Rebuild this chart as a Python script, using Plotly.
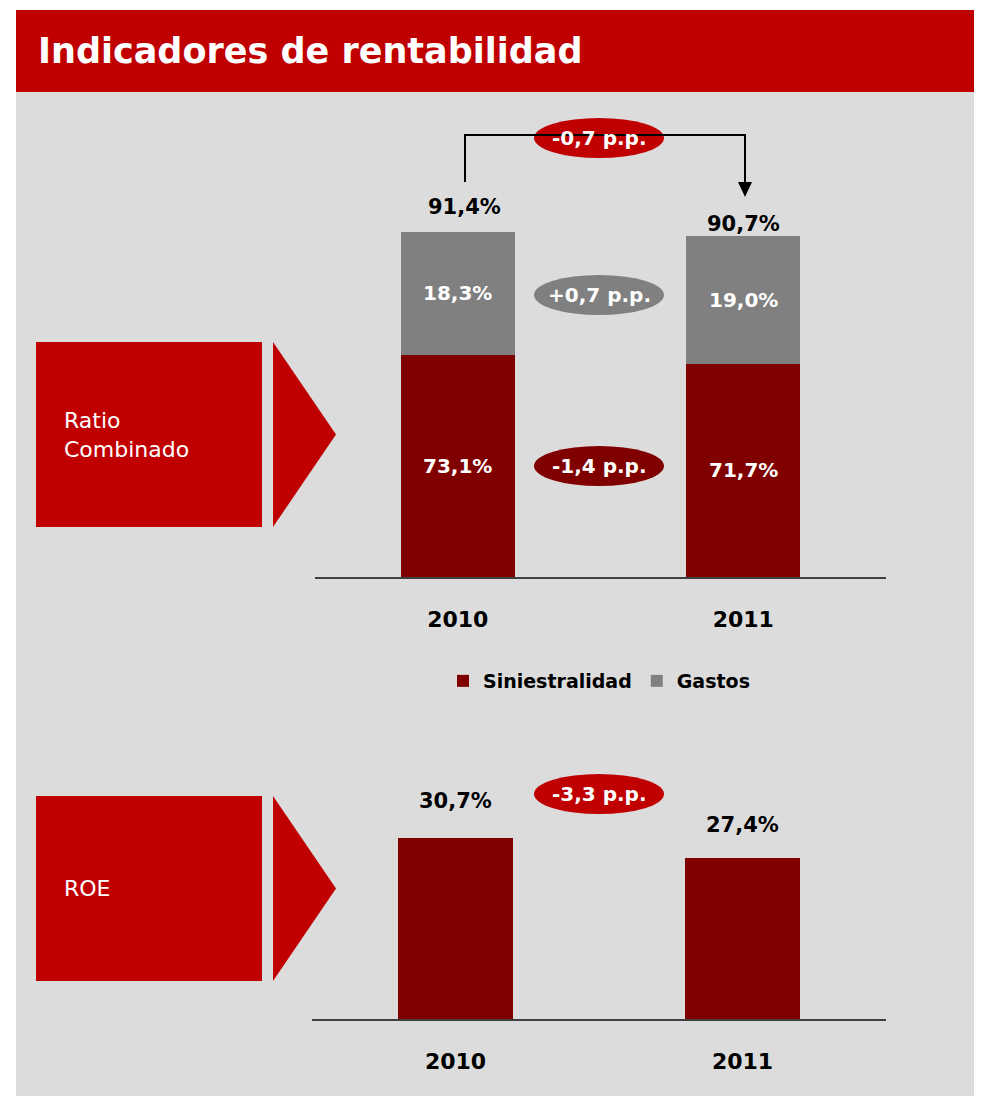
import plotly.graph_objects as go

# the page body adds an 8px margin; the figure is shifted back by that much
OFF = 8
W, H = 990, 1096

# data
years = ["2010", "2011"]
siniestralidad = [73.1, 71.7]
gastos = [18.3, 19.0]
ratio_total = [91.4, 90.7]
roe = [30.7, 27.4]
diff_total = "-0,7 p.p."
diff_gastos = "+0,7 p.p."
diff_sin = "-1,4 p.p."
diff_roe = "-3,3 p.p."

RED = "#C00000"
DARK = "#800000"
GREY = "#808080"
BG = "#DCDCDC"
FONT = "DejaVu Sans"
Y0 = 40  # lower bound of the ratio axis


def px(x):
    return (x - OFF) / W


def py(y):
    return 1 - (y - OFF) / H


def pct(v):
    return "{:.1f}%".format(v).replace(".", ",")


def bold(size, color="black"):
    return dict(color=color, size=size, family=FONT, weight="bold")


fig = go.Figure()
fig.add_trace(go.Bar(x=years, y=siniestralidad, name="Siniestralidad",
                     marker=dict(color=DARK, line=dict(width=0)),
                     xaxis="x", yaxis="y"))
fig.add_trace(go.Bar(x=years, y=gastos, name="Gastos",
                     marker=dict(color=GREY, line=dict(width=0)),
                     xaxis="x", yaxis="y"))
fig.add_trace(go.Bar(x=years, y=roe, name="ROE", showlegend=False,
                     marker=dict(color=DARK, line=dict(width=0)),
                     xaxis="x2", yaxis="y2"))

ann = []
# labels inside the stacked bars (x = category index)
for i, (s, g) in enumerate(zip(siniestralidad, gastos)):
    ann.append(dict(x=i, y=(Y0 + s) / 2, xref="x", yref="y", text=pct(s),
                    showarrow=False, xanchor="center", yanchor="middle", font=bold(20, "white")))
    ann.append(dict(x=i, y=s + g / 2, xref="x", yref="y", text=pct(g),
                    showarrow=False, xanchor="center", yanchor="middle", font=bold(20, "white")))
# totals above bars
for i, (t, dy, dx) in enumerate(zip(ratio_total, [25, 12], [7, 0])):
    ann.append(dict(x=i, y=t, xref="x", yref="y", text=pct(t), showarrow=False,
                    xanchor="center", yanchor="middle", yshift=dy, xshift=dx, font=bold(21)))
for i, (r, dy) in enumerate(zip(roe, [37, 33])):
    ann.append(dict(x=i, y=r, xref="x2", yref="y2", text=pct(r), showarrow=False,
                    xanchor="center", yanchor="middle", yshift=dy, font=bold(21)))

shapes = [
    dict(type="rect", xref="paper", yref="paper", x0=px(16), x1=1, y0=0, y1=py(92),
         fillcolor=BG, line=dict(width=0), layer="below"),
    dict(type="rect", xref="paper", yref="paper", x0=px(16), x1=1, y0=py(92), y1=py(10),
         fillcolor=RED, line=dict(width=0), layer="below"),
]

# left side boxes with arrows
for top, bot, lines in [(342, 527, ["Ratio", "Combinado"]), (796, 981, ["ROE"])]:
    mid = (top + bot) / 2
    shapes.append(dict(type="rect", xref="paper", yref="paper", x0=px(36), x1=px(262),
                       y0=py(bot), y1=py(top), fillcolor=RED, line=dict(width=0)))
    shapes.append(dict(type="path", xref="paper", yref="paper",
                       path="M {} {} L {} {} L {} {} Z".format(px(273), py(top), px(336), py(mid), px(273), py(bot)),
                       fillcolor=RED, line=dict(width=0)))
    ann.append(dict(x=px(62), y=py(mid), xref="paper", yref="paper", xanchor="left", yanchor="middle",
                    text="<br>".join(lines), showarrow=False, align="left",
                    font=dict(color="white", size=22, family=FONT)))

# difference ellipses
for cy, col, txt in [(138, RED, diff_total), (295, GREY, diff_gastos),
                     (466, DARK, diff_sin), (794, RED, diff_roe)]:
    shapes.append(dict(type="circle", xref="paper", yref="paper", x0=px(534), x1=px(664),
                       y0=py(cy + 20), y1=py(cy - 20), fillcolor=col, line=dict(width=0)))
    ann.append(dict(x=px(599), y=py(cy), xref="paper", yref="paper", text=txt,
                    xanchor="center", yanchor="middle",
                    showarrow=False, font=bold(20, "white")))

# connector from 2010 total to 2011 total
shapes.append(dict(type="path", xref="paper", yref="paper",
                   path="M {} {} L {} {} L {} {} L {} {}".format(
                       px(465), py(182), px(465), py(135), px(745), py(135), px(745), py(184)),
                   line=dict(color="black", width=2)))
shapes.append(dict(type="path", xref="paper", yref="paper",
                   path="M {} {} L {} {} L {} {} Z".format(
                       px(738), py(182), px(752), py(182), px(745), py(197)),
                   fillcolor="black", line=dict(width=0)))

# title
ann.append(dict(x=px(36), y=py(51), xref="paper", yref="paper", xanchor="left", yanchor="middle",
                text="Indicadores de rentabilidad", showarrow=False, font=bold(35, "white")))

axis_x = dict(type="category", range=[-0.5, 1.5], autorange=False, automargin=False,
              showgrid=False, zeroline=False, showline=True,
              linecolor="#404040", linewidth=2, ticks="outside", ticklen=22,
              tickcolor="rgba(0,0,0,0)", tickfont=bold(22))

fig.update_layout(
    width=W, height=H,
    margin=dict(l=0, r=0, t=0, b=0, autoexpand=False),
    paper_bgcolor="white", plot_bgcolor="rgba(0,0,0,0)",
    barmode="stack", bargap=0.6,
    showlegend=True,
    legend=dict(orientation="h", x=px(599), xanchor="center", y=py(681), yanchor="middle",
                bgcolor="rgba(0,0,0,0)", traceorder="normal", font=bold(19)),
    xaxis=dict(axis_x, domain=[px(315), px(886)], anchor="y"),
    yaxis=dict(domain=[py(577), py(106.5)], range=[Y0, 110], autorange=False,
               visible=False, anchor="x"),
    xaxis2=dict(axis_x, domain=[px(312), px(886)], anchor="y2"),
    yaxis2=dict(domain=[py(1019), py(754)], range=[0, 45], autorange=False,
                visible=False, anchor="x2"),
    shapes=shapes,
    annotations=ann,
)

fig.write_html("out.html")
